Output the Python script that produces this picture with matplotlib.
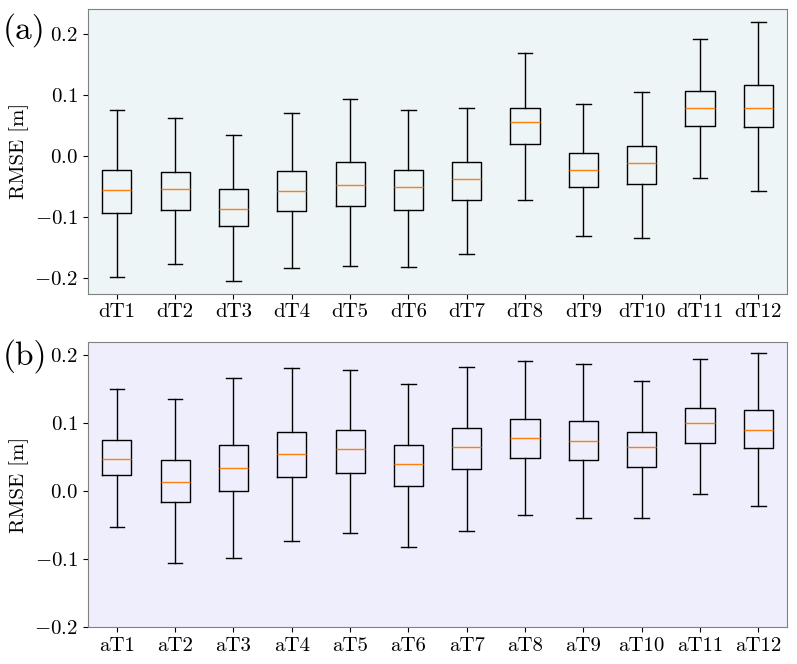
import matplotlib
matplotlib.use("Agg")
import matplotlib.pyplot as plt

plt.rcParams['font.family'] = 'serif'
plt.rcParams['font.serif'] = ['cmr10']
plt.rcParams['mathtext.fontset'] = 'cm'
plt.rcParams['axes.formatter.use_mathtext'] = True
plt.rcParams['font.size'] = 15

# box statistics: lower whisker, Q1, median, Q3, upper whisker
d_labels = ['dT%d' % i for i in range(1, 13)]
d_whislo = [-0.197, -0.177, -0.204, -0.183, -0.179, -0.182, -0.160, -0.071, -0.131, -0.134, -0.035, -0.057]
d_q1 = [-0.093, -0.088, -0.114, -0.090, -0.081, -0.088, -0.071, 0.019, -0.051, -0.045, 0.050, 0.047]
d_med = [-0.056, -0.054, -0.087, -0.057, -0.048, -0.051, -0.038, 0.056, -0.023, -0.012, 0.078, 0.079]
d_q3 = [-0.023, -0.026, -0.053, -0.024, -0.010, -0.023, -0.010, 0.079, 0.005, 0.016, 0.106, 0.117]
d_whishi = [0.075, 0.063, 0.035, 0.070, 0.094, 0.076, 0.079, 0.169, 0.085, 0.105, 0.191, 0.220]

a_labels = ['aT%d' % i for i in range(1, 13)]
a_whislo = [-0.052, -0.105, -0.098, -0.073, -0.062, -0.082, -0.058, -0.035, -0.040, -0.040, -0.005, -0.022]
a_q1 = [0.023, -0.016, 0.0005, 0.021, 0.027, 0.007, 0.032, 0.049, 0.045, 0.035, 0.070, 0.063]
a_med = [0.047, 0.013, 0.034, 0.054, 0.061, 0.040, 0.065, 0.078, 0.073, 0.064, 0.099, 0.090]
a_q3 = [0.075, 0.046, 0.067, 0.087, 0.089, 0.068, 0.093, 0.106, 0.102, 0.087, 0.122, 0.119]
a_whishi = [0.150, 0.135, 0.166, 0.181, 0.178, 0.157, 0.182, 0.191, 0.186, 0.162, 0.193, 0.203]


def make_stats(labels, lo, q1, med, q3, hi):
    return [dict(label=l, whislo=a, q1=b, med=c, q3=d, whishi=e, fliers=[])
            for l, a, b, c, d, e in zip(labels, lo, q1, med, q3, hi)]


fig, (ax1, ax2) = plt.subplots(2, 1, figsize=(7.97, 6.64), dpi=100)
fig.subplots_adjust(left=0.11, right=0.988, top=0.987, bottom=0.055, hspace=0.17)

ax1.bxp(make_stats(d_labels, d_whislo, d_q1, d_med, d_q3, d_whishi), showfliers=False)
ax1.set_facecolor('#edf5f7')
ax1.set_ylabel('RMSE [m]')
ax1.set_yticks([-0.2, -0.1, 0.0, 0.1, 0.2])

ax2.bxp(make_stats(a_labels, a_whislo, a_q1, a_med, a_q3, a_whishi), showfliers=False)
ax2.set_facecolor('#eeeefc')
ax2.set_ylabel('RMSE [m]')
ax2.set_yticks([-0.2, -0.1, 0.0, 0.1, 0.2])
ax2.set_ylim(-0.2, 0.218)

for ax in (ax1, ax2):
    for s in ax.spines.values():
        s.set_edgecolor('#808080')

fig.text(0.004, 0.98, '(a)', fontsize=24, va='top')
fig.text(0.004, 0.49, '(b)', fontsize=24, va='top')

plt.savefig('out.png')
